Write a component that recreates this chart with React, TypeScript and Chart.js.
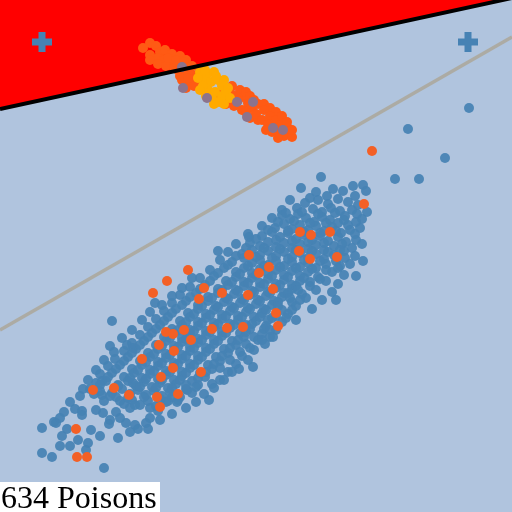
import { useEffect, useRef } from "react";
import { Chart, registerables } from "chart.js";
Chart.register(...registerables);

// All coordinates are in the chart's own 0..512 data units (y grows downward).
const limitLine: number[][] = [[0, 109], [512, -2]];
const trendLine: number[][] = [[0, 330], [512, 37]];
const markers: number[][] = [[42, 42], [468, 42]];

const bluePoints: number[][] = [
  [321,177],[301,188],[316,192],[333,189],[343,191],[353,186],[363,185],[366,191],[395,179],[419,179],[355,196],[327,196],[310,198],
  [408,129],[445,158],[469,108],
  [290,200],[305,203],[318,200],[328,204],[338,199],[348,202],[358,205],[297,208],[352,210],
  [282,210],[313,209],[322,212],[331,208],[340,211],[345,216],[357,214],[367,212],[362,219],
  [272,218],[282,215],[290,219],[298,214],[306,218],[314,222],[322,217],[330,220],[338,223],[348,225],[356,222],
  [262,226],[275,228],[284,224],[292,229],[300,225],[308,230],[316,226],[324,231],[332,227],[341,233],[350,230],[360,228],
  [248,234],[262,236],[272,232],[280,237],[288,233],[296,239],[304,235],[312,240],[320,236],[328,241],[338,237],[346,242],[356,240],[249,237],
  [236,244],[250,243],[260,246],[268,242],[276,247],[284,243],[292,248],[300,244],[308,249],[316,245],[324,250],[334,246],[344,251],[352,248],[362,244],
  [228,252],[242,254],[252,250],[260,255],[268,251],[276,256],[284,252],[292,257],[300,253],[308,258],[316,254],[324,259],[334,255],[345,258],[355,256],[363,261],[218,251],
  [220,260],[232,262],[244,258],[252,263],[260,260],[268,265],[276,261],[284,266],[292,262],[300,267],[308,263],[316,268],[326,264],[340,266],[350,264],
  [210,270],[224,268],[236,272],[244,268],[252,273],[260,269],[268,274],[276,270],[284,275],[292,271],[300,276],[308,272],[318,277],[332,272],[344,275],[356,276],
  [200,278],[214,276],[226,281],[236,277],[244,282],[252,278],[260,283],[268,279],[276,284],[284,280],[292,285],[300,281],[310,286],[326,281],[338,284],
  [190,287],[205,285],[218,289],[228,285],[236,290],[244,286],[252,291],[260,287],[268,292],[276,288],[284,293],[292,289],[302,294],[316,290],[332,292],
  [180,295],[196,293],[208,297],[218,293],[226,298],[234,294],[242,299],[250,295],[258,300],[266,296],[274,301],[282,297],[292,302],[306,298],[322,300],
  [172,303],[186,301],[198,305],[208,301],[216,306],[224,302],[232,307],[240,303],[248,308],[256,304],[264,309],[272,305],[282,310],[296,306],[312,309],[336,300],
  [164,311],[176,309],[188,313],[198,309],[206,314],[214,310],[222,315],[230,311],[238,316],[246,312],[254,317],[262,313],[272,318],[288,314],
  [155,303],[156,319],[168,317],[180,321],[190,317],[198,322],[206,318],[214,323],[222,319],[230,324],[238,320],[246,325],[256,321],[266,326],[282,322],[296,320],[112,321],
  [148,327],[160,325],[172,329],[182,325],[190,330],[198,326],[206,331],[214,327],[222,332],[230,328],[240,333],[250,329],[262,334],[276,330],
  [140,335],[152,333],[164,337],[174,333],[182,338],[190,334],[198,339],[206,335],[214,340],[222,336],[232,341],[244,337],[258,340],[270,337],[273,337],
  [132,343],[144,341],[156,345],[166,341],[174,346],[182,342],[190,347],[198,343],[206,348],[214,344],[224,349],[236,345],[250,348],[265,344],
  [110,346],[124,351],[136,349],[148,353],[158,349],[166,354],[174,350],[182,355],[190,351],[198,356],[206,352],[216,357],[228,353],[242,356],[127,345],[133,348],
  [115,359],[128,357],[140,361],[150,357],[158,362],[166,358],[174,363],[182,359],[190,364],[198,360],[208,365],[220,361],[236,364],
  [108,366],[120,365],[132,369],[142,365],[150,370],[158,366],[166,371],[174,367],[182,372],[190,368],[200,373],[212,369],[228,372],[239,369],[253,367],
  [100,374],[112,373],[124,377],[134,373],[142,378],[150,374],[158,379],[166,375],[174,380],[182,376],[192,381],[205,377],[220,380],
  [96,383],[106,381],[118,385],[128,381],[136,386],[144,382],[152,387],[160,383],[168,388],[176,384],[186,389],[198,385],[212,384],
  [90,389],[102,381],[100,391],[112,393],[122,389],[130,394],[138,390],[146,395],[154,391],[162,396],[170,392],[180,397],[192,393],[133,383],
  [83,389],[102,395],[116,397],[104,401],[120,401],[124,404],[132,400],[140,405],[148,401],[156,406],[166,402],[178,400],[187,390],[196,387],[209,400],
  [75,409],[82,411],[82,415],[103,413],[110,420],[109,424],[126,423],[135,425],[146,423],[148,429],[138,429],[130,408],[135,405],[150,408],[158,411],[168,401],[177,402],[116,412],[96,410],
  [54,422],[42,428],[56,423],[67,429],[62,436],[91,430],[88,443],[86,450],[42,453],[52,457],[104,468],[120,418],
  [286,213],[302,212],[318,214],[335,213],
  [278,222],[294,221],[310,223],[326,223],[344,220],
  [268,230],[288,231],[304,232],[320,233],[336,231],[355,234],
  [256,239],[276,240],[292,241],[308,242],[324,243],[342,244],
  [246,248],[264,248],[280,249],[296,250],[312,251],[328,252],[340,250],
  [236,256],[256,257],[272,258],[288,259],[304,260],[320,261],[336,261],
  [228,265],[248,266],[264,266],[280,267],[296,268],[312,269],[326,270],[338,268],
  [218,273],[240,274],[256,275],[272,276],[288,277],[304,278],[320,279],
  [210,281],[232,282],[248,283],[264,284],[280,285],[296,286],[310,282],
  [200,289],[222,290],[238,291],[254,292],[270,293],[288,293],[298,290],
  [190,297],[212,298],[228,299],[244,300],[260,301],[278,302],[290,298],
  [182,305],[202,306],[218,307],[234,308],[250,309],[266,310],[278,306],
  [172,313],[194,314],[210,315],[226,316],[242,317],[260,317],[276,316],
  [164,321],[186,322],[202,323],[218,324],[234,325],[252,324],[268,320],
  [156,329],[178,330],[194,331],[210,332],[226,333],[246,332],[264,329],
  [148,337],[170,338],[186,339],[202,340],[218,341],[238,340],[254,337],
  [140,345],[162,346],[178,347],[194,348],[210,349],[230,348],[246,344],
  [132,353],[154,354],[170,355],[186,356],[202,357],[222,356],[240,352],
  [124,361],[146,362],[162,363],[178,364],[194,365],[214,364],[230,360],
  [116,369],[138,370],[154,371],[170,372],[186,373],[206,372],[220,368],
  [108,377],[130,378],[146,379],[162,380],[180,380],[198,378],
  [100,385],[118,386],[140,387],[156,388],[172,388],[186,385],
  [94,394],[110,396],[128,398],[144,397],[160,399],[172,397],
  [192,278],[182,288],[172,296],[162,305],[150,312],[142,320],[132,330],[122,338],[114,352],[104,360],[96,370],[88,380],[80,396],[70,402],[64,412],[60,418],
  [300,300],[292,310],[286,318],[270,330],[262,340],[254,350],[248,360],[232,372],[224,380],[214,388],[204,394],[196,402],[186,408],[172,414],[160,420],[150,418],[130,432],[118,438],[100,436],[78,440],[70,446],[60,446]
];

const orangePoints: number[][] = [
  [372,151],[364,204],[300,232],[311,235],[330,232],[337,257],[299,251],[310,259],[249,255],[269,267],[259,273],
  [188,270],[167,281],[153,293],[204,288],[222,293],[248,295],[273,289],[199,299],[276,313],[278,326],
  [212,329],[227,328],[243,327],[166,332],[173,334],[184,330],[191,340],[159,345],[174,351],[142,359],
  [173,368],[201,372],[161,377],[114,388],[129,395],[178,394],[157,397],[160,407],[93,390],[76,429],[77,457],[87,457]
];

const clusterShadow: number[][] = [[182,67],[183,88],[207,98],[237,102],[253,102],[247,117],[273,128],[283,130]];

const clusterOrange: number[][] = [
  [150,43],[143,48],[156,46],[160,52],[150,55],[158,58],[165,50],[172,54],[180,56],[170,62],[178,62],[186,60],[164,60],
  [150,60],[158,64],[166,66],[174,68],[182,70],[190,72],[196,76],[168,58],[176,60],[184,62],[192,66],[200,70],
  [178,70],[185,72],[192,75],[182,80],[190,82],[198,80],[186,88],[194,86],[180,76],[188,78],
  [224,88],[230,92],[236,96],[228,100],[240,90],[244,97],[248,103],[234,106],[242,110],[252,108],[258,104],
  [220,95],[226,104],[232,86],[238,100],[246,92],[250,96],[254,100],[246,112],[250,118],[258,120],[264,104],[270,108],[276,112],
  [256,114],[264,110],[262,120],[270,116],[268,124],[276,120],[274,128],[282,124],[280,132],[288,128],[290,135],[284,136],[292,137],
  [272,132],[266,130],[282,116],[287,122],[278,138],[292,130]
];

const clusterYellow: number[][] = [
  [200,72],[207,74],[214,72],[204,80],[211,82],[218,80],[222,86],[208,90],[215,92],[222,96],[226,92],[212,98],[219,102],[203,86],
  [198,78],[205,70],[216,76],[224,80],[228,88],[206,96],[214,104],[224,104],[230,98],[200,90]
];

const labelText = "634 Poisons";

const toXY = (a: number[][]) => a.map(([x, y]) => ({ x, y }));

export default function App() {
  const ref = useRef<HTMLCanvasElement | null>(null);
  useEffect(() => {
    if (!ref.current) return;
    const bgPlugin = {
      id: "bg",
      beforeDraw(chart: any) {
        const c = chart.ctx;
        c.save();
        c.fillStyle = "#b0c4de";
        c.fillRect(0, 0, chart.width, chart.height);
        c.restore();
      },
      afterDraw(chart: any) {
        const c = chart.ctx;
        c.save();
        c.fillStyle = "#ffffff";
        c.fillRect(0, 482, 160, 30);
        c.fillStyle = "#000000";
        c.font = '32px "Liberation Serif"';
        c.textBaseline = "alphabetic";
        c.fillText(labelText, 1, 508);
        c.restore();
      },
    };
    const pt = { pointRadius: 5, pointBorderWidth: 0, showLine: false };
    const chart = new Chart(ref.current, {
      type: "scatter",
      data: {
        datasets: [
          {
            type: "line",
            data: toXY(limitLine),
            borderColor: "#000000",
            borderWidth: 4,
            backgroundColor: "#ff0000",
            fill: "end",
            pointRadius: 0,
            order: 0,
          } as any,
          {
            type: "line",
            data: toXY(trendLine),
            borderColor: "rgba(172,170,160,0.95)",
            borderWidth: 3.5,
            fill: false,
            pointRadius: 0,
            order: 9,
          } as any,
          { data: toXY(bluePoints), backgroundColor: "rgba(70,130,180,0.93)", order: 8, ...pt },
          { data: toXY(clusterShadow), backgroundColor: "rgba(140,115,140,1)", order: 3, ...pt },
          { data: toXY(orangePoints), backgroundColor: "rgb(243,96,38)", order: 4, ...pt },
          { data: toXY(clusterOrange), backgroundColor: "rgb(255,90,20)", order: 5, ...pt },
          { data: toXY(clusterYellow), backgroundColor: "rgb(255,170,0)", order: 4, ...pt },
          {
            data: toXY(markers),
            pointStyle: "cross",
            pointRadius: 10,
            borderColor: "rgb(70,130,180)",
            pointBorderColor: "rgb(70,130,180)",
            pointBorderWidth: 7,
            borderWidth: 7,
            order: 1,
            showLine: false,
          } as any,
        ],
      },
      options: {
        responsive: false,
        animation: false,
        events: [],
        layout: { padding: 0, autoPadding: false },
        scales: {
          x: { type: "linear", min: 0, max: 512, display: false },
          y: { type: "linear", min: 0, max: 512, reverse: true, display: false },
        },
        plugins: {
          legend: { display: false },
          tooltip: { enabled: false },
          filler: { drawTime: "beforeDatasetsDraw" } as any,
        },
      } as any,
      plugins: [bgPlugin],
    });
    return () => chart.destroy();
  }, []);
  return (
    <div style={{ position: "fixed", left: 0, top: 0, width: 512, height: 512 }}>
      <canvas ref={ref} width={512} height={512} style={{ display: "block" }} />
    </div>
  );
}
